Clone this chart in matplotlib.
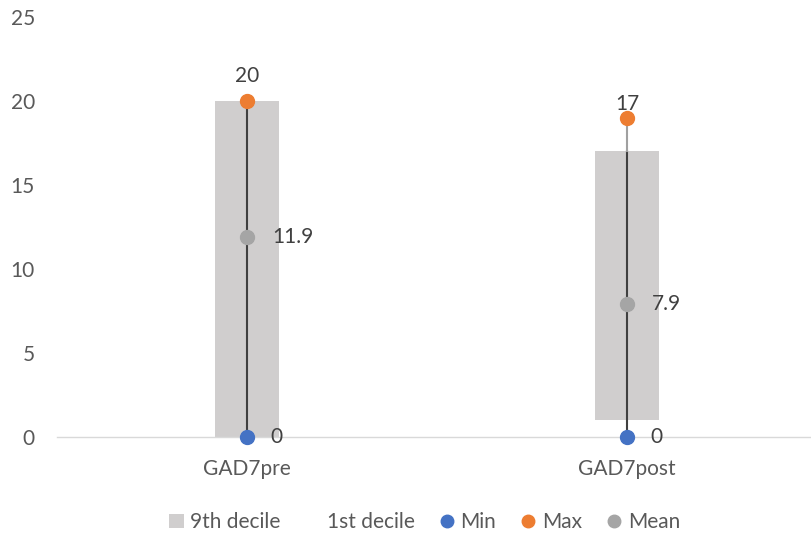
import matplotlib
matplotlib.use("Agg")
import matplotlib.pyplot as plt
from matplotlib.patches import Patch
from matplotlib.lines import Line2D

categories = ["GAD7pre", "GAD7post"]
decile1 = [0, 1]
decile9 = [20, 17]
min_vals = [0, 0]
max_vals = [20, 19]
mean_vals = [11.9, 7.9]
yticks = [0, 5, 10, 15, 20, 25]

BAR = "#D0CECE"
BLUE = "#4472C4"
ORANGE = "#ED7D31"
GREY = "#A5A5A5"
TEXT = "#595959"
LABEL = "#404040"

plt.rcParams["font.family"] = ["Lato", "DejaVu Sans"]

fig = plt.figure(figsize=(8.12, 5.34), dpi=100)
ax = fig.add_axes([57 / 812, 1 - 437 / 534, 1 - 57 / 812, (437 - 17) / 534])

x = list(range(len(categories)))
heights = [d9 - d1 for d1, d9 in zip(decile1, decile9)]
ax.bar(x, heights, bottom=decile1, width=0.168, color=BAR, zorder=1)

# high-low range lines: dark through the decile band, lighter above it
for xi, lo, d9, hi in zip(x, min_vals, decile9, max_vals):
    ax.plot([xi, xi], [lo, min(d9, hi)], color="#404040", lw=1.5, zorder=2)
    if hi > d9:
        ax.plot([xi, xi], [d9, hi], color="#A0A0A0", lw=1.5, zorder=2)

ms = 10
for vals, col in [(min_vals, BLUE), (max_vals, ORANGE), (mean_vals, GREY)]:
    ax.plot(x, vals, "o", color=col, ms=ms, zorder=3, ls="none", clip_on=False)

fs = 15
for xi, v in zip(x, min_vals):
    ax.annotate(f"{v:g}", (xi, v), xytext=(17, 0), textcoords="offset points",
                ha="left", va="center", fontsize=fs, color=LABEL)
for xi, v in zip(x, mean_vals):
    ax.annotate(f"{v:g}", (xi, v), xytext=(18, 0), textcoords="offset points",
                ha="left", va="center", fontsize=fs, color=LABEL)
top_offsets = [18, 10]
for xi, v, d9, off in zip(x, max_vals, decile9, top_offsets):
    ax.annotate(f"{d9:g}", (xi, v), xytext=(0, off), textcoords="offset points",
                ha="center", va="center", fontsize=fs, color=LABEL)

ax.set_xlim(-0.5, 1.487)
ax.set_ylim(0, 25)
ax.set_yticks(yticks)
ax.set_yticklabels([str(t) for t in yticks])
ax.set_xticks(x)
ax.set_xticklabels(categories)
ax.tick_params(axis="both", length=0, labelsize=fs, colors=TEXT)
ax.tick_params(axis="y", pad=16)
ax.tick_params(axis="x", pad=16)
for side in ["top", "right", "left"]:
    ax.spines[side].set_visible(False)
ax.spines["bottom"].set_color("#D9D9D9")
ax.spines["bottom"].set_linewidth(1.0)
ax.patch.set_alpha(0)

handles = [
    Patch(facecolor=BAR, edgecolor="none"),
    Patch(facecolor="none", edgecolor="none"),
    Line2D([], [], marker="o", color=BLUE, ls="none", ms=9),
    Line2D([], [], marker="o", color=ORANGE, ls="none", ms=9),
    Line2D([], [], marker="o", color=GREY, ls="none", ms=9),
]
labels = ["9th decile", "1st decile", "Min", "Max", "Mean"]
fig.legend(handles, labels, loc="center", bbox_to_anchor=(0.523, 0.022), ncol=5,
           frameon=False, fontsize=fs, labelcolor=TEXT, handlelength=0.7,
           handletextpad=0.3, columnspacing=1.2)

fig.savefig("out.png", dpi=100)
